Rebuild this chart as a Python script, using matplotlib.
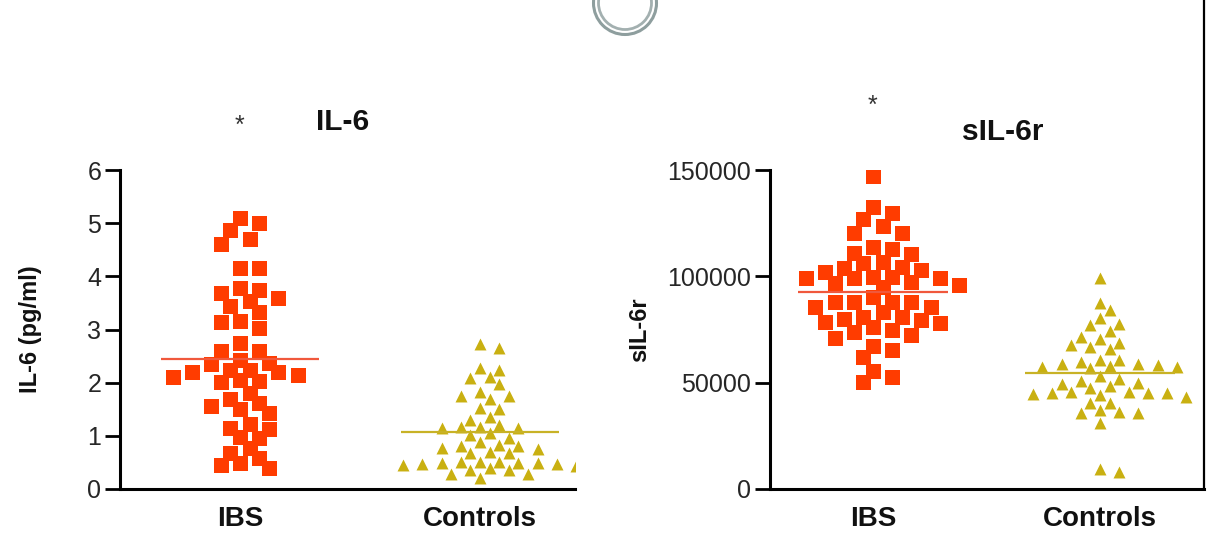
import numpy as np
import matplotlib
matplotlib.use("Agg")
import matplotlib.pyplot as plt
from matplotlib.patches import Circle

plt.rcParams['font.family'] = ['Liberation Sans', 'DejaVu Sans']

# --- data ---
groups = ["IBS", "Controls"]

il6_ibs = [5.10, 5.00, 4.87, 4.71, 4.60, 4.15, 4.15, 3.78, 3.75, 3.69, 3.60, 3.53,
           3.44, 3.32, 3.16, 3.14, 3.03, 2.75, 2.60, 2.60, 2.42, 2.37, 2.36, 2.23,
           2.23, 2.20, 2.20, 2.15, 2.10, 2.05, 2.04, 2.01, 1.81, 1.70, 1.61, 1.56,
           1.51, 1.43, 1.23, 1.14, 1.12, 0.97, 0.95, 0.78, 0.68, 0.58, 0.48, 0.45, 0.40]
il6_ctrl = [2.73, 2.66, 2.28, 2.24, 2.10, 2.08, 1.97, 1.83, 1.75, 1.74, 1.70, 1.52,
            1.50, 1.35, 1.30, 1.20, 1.17, 1.16, 1.14, 1.14, 1.05, 1.02, 0.95, 0.89,
            0.83, 0.80, 0.80, 0.77, 0.76, 0.70, 0.68, 0.67, 0.51, 0.51, 0.51, 0.49,
            0.49, 0.49, 0.47, 0.47, 0.45, 0.44, 0.39, 0.36, 0.36, 0.29, 0.29, 0.20]
il6_means = [2.44, 1.08]

sil6_ibs = [147.2, 132.7, 129.9, 126.8, 123.7, 120.5, 120.2, 113.6, 112.7, 111.1,
            110.4, 106.9, 106.1, 104.5, 103.8, 103.0, 102.2, 99.8, 99.5, 99.1, 99.1,
            99.1, 97.5, 96.7, 95.9, 95.1, 90.4, 88.1, 88.1, 88.1, 88.1, 85.7, 85.7,
            83.4, 81.0, 81.0, 79.8, 79.5, 78.7, 77.9, 76.3, 74.8, 74.0, 72.4, 70.9,
            67.2, 65.4, 62.2, 55.6, 52.8, 50.5]
sil6_ctrl = [99.1, 87.6, 84.2, 80.3, 77.6, 77.1, 74.4, 71.6, 70.4, 68.8, 67.7, 66.6,
             65.7, 60.7, 60.7, 59.9, 58.8, 58.8, 58.3, 57.8, 57.2, 57.2, 56.8, 53.1,
             51.6, 50.9, 49.7, 49.4, 48.4, 47.4, 45.8, 45.8, 45.3, 45.3, 45.0, 44.7,
             44.2, 43.4, 40.6, 40.3, 37.1, 36.3, 35.6, 35.6, 30.9, 9.2, 8.1]
sil6_ibs = [v * 1000 for v in sil6_ibs]
sil6_ctrl = [v * 1000 for v in sil6_ctrl]
sil6_means = [92800, 54700]

red = "#FF3C00"
red_line = "#F0583C"
olive = "#C9B011"
olive_line = "#C8B226"


def swarm_x(ax, x0, vals, step, col_gap, near_gap):
    # column scatter: each point goes to the free slot closest to the centre.
    # slots are half a column apart; same column needs col_gap px vertically,
    # neighbouring half-slot needs near_gap px.
    tr = ax.transData
    vals = np.asarray(vals, dtype=float)
    pts = tr.transform(np.column_stack([np.full(len(vals), x0), vals]))
    ys = pts[:, 1]
    x0px = pts[0, 0]
    cands = [0] + [s * j for j in range(1, 40) for s in (1, -1)]
    placed = []
    offs = np.zeros(len(vals))
    for i in np.argsort(-vals):
        for c in cands:
            ok = True
            for pc, py in placed:
                d = abs(c - pc)
                dy = abs(ys[i] - py)
                if (d == 0 and dy < col_gap) or (d == 1 and dy < near_gap):
                    ok = False
                    break
            if ok:
                break
        placed.append((c, ys[i]))
        offs[i] = c * step
    back = tr.inverted().transform(np.column_stack([x0px + offs, ys]))
    return back[:, 0]


fig = plt.figure(figsize=(12.07, 5.33), dpi=100, facecolor="white")

bottom, height = 1 - 489 / 533, 319 / 533
ax1 = fig.add_axes([120 / 1207, bottom, 455 / 1207, height])
ax2 = fig.add_axes([770 / 1207, bottom, 434 / 1207, height])

# overlay in pixel coords for the odd bits (spinner ring, edge line, asterisks)
ov = fig.add_axes([0, 0, 1, 1], zorder=5)
ov.set_xlim(0, 1207)
ov.set_ylim(533, 0)
ov.axis("off")
ov.add_patch(Circle((625, 3), 31.5, fill=False, lw=2.2, color="#8E9E9E"))
ov.add_patch(Circle((625, 3), 26.5, fill=False, lw=2.0, color="#A3B0B0"))
ov.plot([1204, 1204], [0, 489], color="black", lw=1.6)
ov.text(239, 114, "*", fontsize=18, color="#333333", ha="center", va="top")
ov.text(872, 94, "*", fontsize=18, color="#333333", ha="center", va="top")

ax1.set_xlim(-0.5, 1.396)
ax1.set_ylim(0, 6)
ax2.set_xlim(-0.454, 1.458)
ax2.set_ylim(0, 150000)

panels = [
    (ax1, il6_ibs, il6_ctrl, il6_means, [0, 1, 2, 3, 4, 5, 6], "IL-6 (pg/ml)"),
    (ax2, sil6_ibs, sil6_ctrl, sil6_means, [0, 50000, 100000, 150000], "sIL-6r"),
]

for ax, ibs, ctrl, means, yt, ylab in panels:
    xi = swarm_x(ax, 0, ibs, 9.6, 15, 9)
    xc = swarm_x(ax, 1, ctrl, 9.6, 13, 6)
    ax.scatter(xi, ibs, marker="s", s=10.8 ** 2, color=red, linewidths=0, zorder=2)
    ax.scatter(xc, ctrl, marker="^", s=8.6 ** 2, color=olive, linewidths=0, zorder=2)
    ax.hlines(means[0], -0.33, 0.33, color=red_line, lw=1.6, zorder=3)
    ax.hlines(means[1], 1 - 0.33, 1 + 0.33, color=olive_line, lw=1.6, zorder=3)

    ax.set_yticks(yt)
    ax.set_yticklabels([str(v) for v in yt])
    ax.set_xticks([0, 1])
    ax.set_xticklabels(groups, fontsize=20, fontweight="bold", color="#111111")
    ax.tick_params(axis="x", length=0, pad=12)
    ax.tick_params(axis="y", length=10.5, width=2.0, labelsize=18, pad=3,
                   labelcolor="#262626")
    for side in ("top", "right"):
        ax.spines[side].set_visible(False)
    for side in ("left", "bottom"):
        ax.spines[side].set_linewidth(2.2)
    ax.set_ylabel(ylab, fontsize=17, fontweight="bold", color="#111111")

ax1.yaxis.set_label_coords(-0.172, 0.5)
ax2.yaxis.set_label_coords(-0.275, 0.5)
ax1.text(0.49, 1.15, "IL-6", transform=ax1.transAxes, fontsize=21.5,
         fontweight="bold", ha="center", va="center", color="#111111")
ax2.text(0.537, 1.12, "sIL-6r", transform=ax2.transAxes, fontsize=21.5,
         fontweight="bold", ha="center", va="center", color="#111111")

fig.savefig("out.png", dpi=100, facecolor="white")
